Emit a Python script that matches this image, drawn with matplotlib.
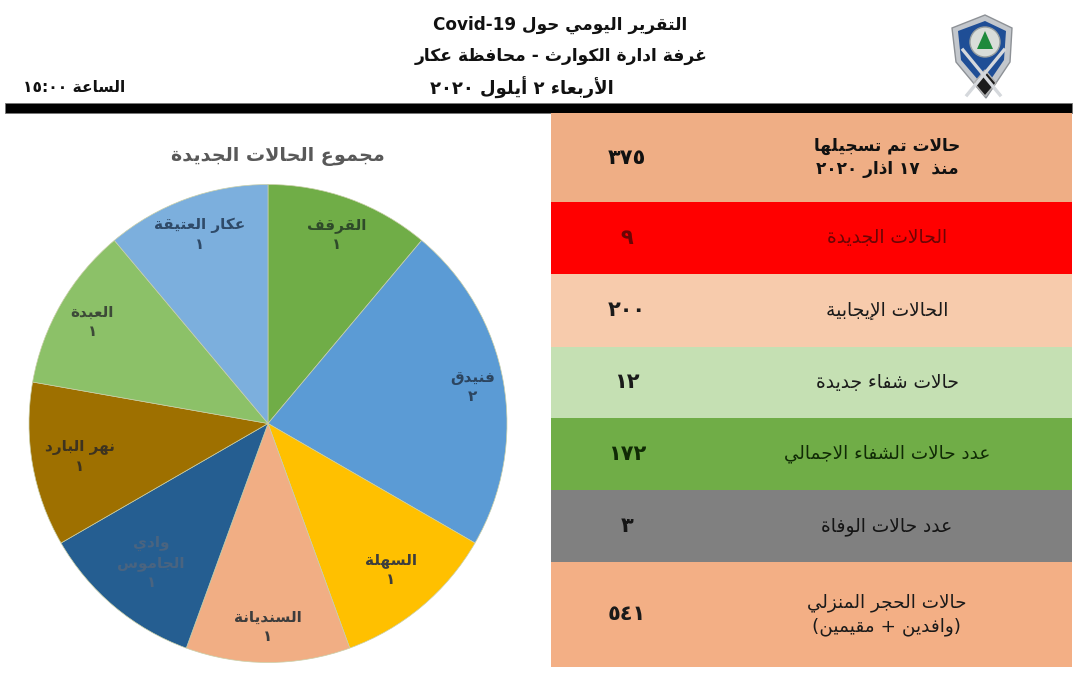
import re
import math
import matplotlib
matplotlib.use("Agg")
import matplotlib.pyplot as plt
from matplotlib.patches import Polygon, Circle

# ---------- data ----------
TITLE_LINES = ["التقرير اليومي حول Covid-19", "غرفة ادارة الكوارث - محافظة عكار", "الأربعاء ٢ أيلول ٢٠٢٠"]
TIME_LABEL = "الساعة ١٥:٠٠"
PIE_TITLE = "مجموع الحالات الجديدة"
PIE_NAMES = ["القرقف", "فنيدق", "السهلة", "السنديانة", "وادي\nالجاموس", "نهر البارد", "العبدة", "عكار العتيقة"]
PIE_VALUES = [1, 2, 1, 1, 1, 1, 1, 1]
PIE_VALUE_LABELS = ["١", "٢", "١", "١", "١", "١", "١", "١"]
ROW_LABELS = ["حالات تم تسجيلها\nمنذ  ١٧ اذار ٢٠٢٠", "الحالات الجديدة", "الحالات الإيجابية", "حالات شفاء جديدة",
              "عدد حالات الشفاء الاجمالي", "عدد حالات الوفاة", "حالات الحجر المنزلي\n(وافدين + مقيمين)"]
ROW_VALUES = ["٣٧٥", "٩", "٢٠٠", "١٢", "١٧٢", "٣", "٥٤١"]

# ---------- styles ----------
PIE_COLORS = ["#70AD47", "#5B9BD5", "#FFC000", "#F1AE84", "#255E91", "#9E7000", "#8CC168", "#7CAFDD"]
PIE_DIST = [0.84, 0.87, 0.80, 0.85, 0.76, 0.80, 0.85, 0.84]
PIE_TEXT = ["#2f4a2a", "#2c4560", "#3d3d3d", "#3d3d3d", "#4a6480", "#3d3320", "#3d4a38", "#2f4a68"]
ROW_COLORS = ["#EFAE85", "#FF0000", "#F7CBAC", "#C5E0B3", "#70AD47", "#808080", "#F3AF85"]
ROW_EDGES = [113, 202, 274, 347, 418, 490, 562, 667]
ROW_TEXT = ["#111111", "#6B0505", "#1a1a1a", "#1a1a1a", "#102a05", "#151515", "#1a1a1a"]
ROW_FONTSIZE = [12.2, 13.4, 13.4, 13.4, 13.2, 13.4, 13.2]
FONT = "DejaVu Sans"

# ---------- Arabic shaping (presentation forms + visual order) ----------
_LETTERS = [("ء", 1), ("آ", 2), ("أ", 2), ("ؤ", 2), ("إ", 2), ("ئ", 4), ("ا", 2), ("ب", 4), ("ة", 2), ("ت", 4),
            ("ث", 4), ("ج", 4), ("ح", 4), ("خ", 4), ("د", 2), ("ذ", 2), ("ر", 2), ("ز", 2), ("س", 4), ("ش", 4),
            ("ص", 4), ("ض", 4), ("ط", 4), ("ظ", 4), ("ع", 4), ("غ", 4), ("ف", 4), ("ق", 4), ("ك", 4), ("ل", 4),
            ("م", 4), ("ن", 4), ("ه", 4), ("و", 2), ("ى", 2), ("ي", 4)]
_FORMS = {}
_cp = 0xFE80
for _ch, _n in _LETTERS:
    _FORMS[_ch] = (_cp, _n)
    _cp += _n
_LAMALEF = {"آ": 0xFEF5, "أ": 0xFEF7, "إ": 0xFEF9, "ا": 0xFEFB}


def _shape(s):
    out = []
    i = 0
    prev_joins = False
    while i < len(s):
        c = s[i]
        if c == "ل" and i + 1 < len(s) and s[i + 1] in _LAMALEF:
            out.append(chr(_LAMALEF[s[i + 1]] + (1 if prev_joins else 0)))
            prev_joins = False
            i += 2
            continue
        if c not in _FORMS:
            out.append(c)
            prev_joins = False
            i += 1
            continue
        base, n = _FORMS[c]
        nxt = s[i + 1] if i + 1 < len(s) else ""
        next_joins = n == 4 and nxt in _FORMS and _FORMS[nxt][1] > 1
        if n == 1:
            out.append(chr(base))
        elif prev_joins and next_joins:
            out.append(chr(base + 3))
        elif prev_joins:
            out.append(chr(base + 1))
        elif next_joins:
            out.append(chr(base + 2))
        else:
            out.append(chr(base))
        prev_joins = next_joins
        i += 1
    return "".join(out)


def ar(text):
    lines = []
    for line in text.split("\n"):
        parts = re.findall(r"[A-Za-z0-9٠-٩][A-Za-z0-9٠-٩:\-]*|[^A-Za-z0-9٠-٩]+", _shape(line))
        vis = []
        for p in reversed(parts):
            if re.match(r"[A-Za-z0-9٠-٩]", p):
                vis.append(p)
            else:
                vis.append(p[::-1].translate(str.maketrans("()", ")(")))
        lines.append("".join(vis))
    return "\n".join(lines)


# ---------- figure ----------
W, H = 1080, 686
fig = plt.figure(figsize=(W / 100, H / 100), dpi=100, facecolor="white")
plt.rcParams["font.family"] = [FONT]
bg = fig.add_axes([0, 0, 1, 1])
bg.set_xlim(0, W)
bg.set_ylim(H, 0)
bg.axis("off")

# header
for line, y, x, fs in zip(TITLE_LINES, [25, 56, 88], [560, 561, 522], [12.2, 12.3, 13]):
    bg.text(x, y, ar(line), ha="center", va="center", fontsize=fs, fontweight="bold", color="#111111")
bg.text(74, 87, ar(TIME_LABEL), ha="center", va="center", fontsize=11.2, fontweight="bold", color="#111111")
bg.barh(108, 1067, height=10, left=5, color="black", edgecolor="#777777", linewidth=0.6)

# logo
bg.add_patch(Polygon([(952, 28), (985, 15), (1012, 28), (1010, 62), (986, 98), (956, 62)],
                     closed=True, fc="#C3C7CC", ec="#8d9196", lw=1))
bg.add_patch(Polygon([(958, 31), (985, 21), (1006, 31), (1004, 60), (985, 88), (961, 60)],
                     closed=True, fc="#1F4E96", ec="none"))
bg.plot([963, 1000], [50, 95], color="#D5D8DC", lw=2.4)
bg.plot([1004, 967], [50, 95], color="#D5D8DC", lw=2.4)
bg.add_patch(Polygon([(985, 70), (996, 83), (985, 96), (974, 83)], closed=True, fc="#1b1b1b", ec="#b0b0b0"))
bg.add_patch(Circle((985, 42), 15, fc="#D9DDD9", ec="#9aa0a0"))
bg.add_patch(Polygon([(985, 31), (993, 49), (977, 49)], closed=True, fc="#1E8A3C", ec="none"))

# table
centers = [(a + b) / 2 for a, b in zip(ROW_EDGES[:-1], ROW_EDGES[1:])]
heights = [b - a for a, b in zip(ROW_EDGES[:-1], ROW_EDGES[1:])]
bg.barh(centers, [521] * len(centers), height=heights, left=551, color=ROW_COLORS, linewidth=0)
for i, (label, val, yc) in enumerate(zip(ROW_LABELS, ROW_VALUES, centers)):
    weight = "bold" if i == 0 else "normal"
    bg.text(887, yc, ar(label), ha="center", va="center", fontsize=ROW_FONTSIZE[i], fontweight=weight,
            color=ROW_TEXT[i], linespacing=1.4)
    bg.text(627, yc, val, ha="center", va="center", fontsize=15, fontweight="bold", color=ROW_TEXT[i])

# pie
cx, cy, r = 268, 423.5, 239
ax = fig.add_axes([(cx - r) / W, 1 - (cy + r) / H, 2 * r / W, 2 * r / H])
wedges, _ = ax.pie(PIE_VALUES, colors=PIE_COLORS, startangle=90, counterclock=False, radius=1,
                   wedgeprops={"linewidth": 0.5, "edgecolor": "#c9cfa8"})
ax.set_xlim(-1, 1)
ax.set_ylim(-1, 1)
for w, name, val, d, tc in zip(wedges, PIE_NAMES, PIE_VALUE_LABELS, PIE_DIST, PIE_TEXT):
    a = math.radians((w.theta1 + w.theta2) / 2)
    ax.text(d * math.cos(a), d * math.sin(a), ar(name) + "\n" + val, ha="center", va="center",
            fontsize=11, color=tc, linespacing=1.35, fontweight="bold")
bg.text(278, 157, ar(PIE_TITLE), ha="center", va="center", fontsize=13.8, color="#595959", fontweight="bold")

fig.savefig("out.png", dpi=100, facecolor="white")
